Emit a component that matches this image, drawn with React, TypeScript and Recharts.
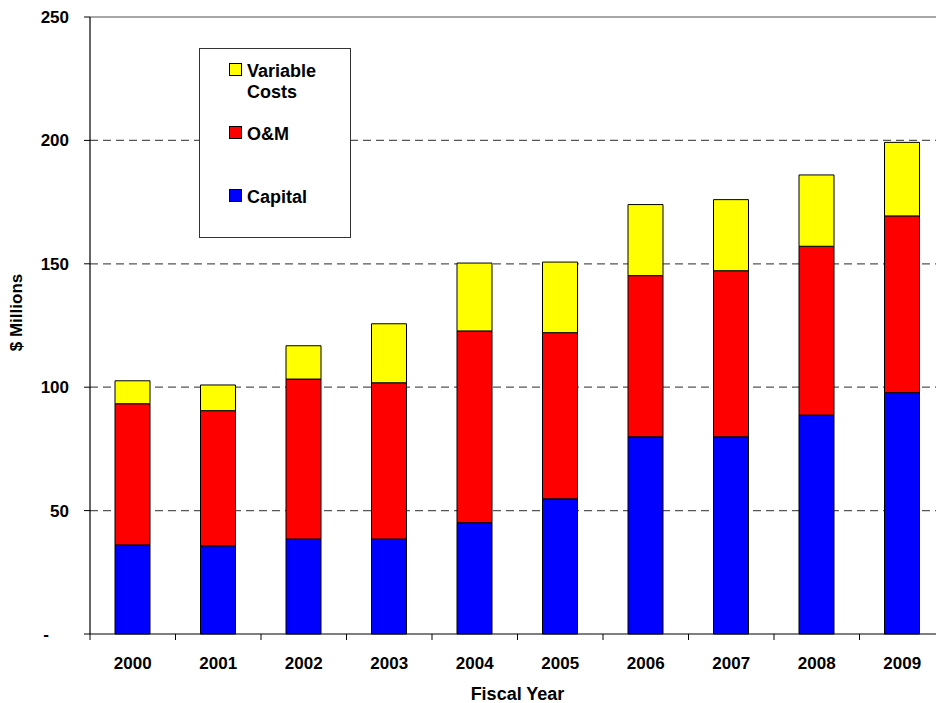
import React from 'react';
import { BarChart, Bar, XAxis, YAxis, CartesianGrid, Legend } from 'recharts';

// Fiscal years on the category axis
const years = ['2000', '2001', '2002', '2003', '2004', '2005', '2006', '2007', '2008', '2009'];

// Cost components, $ millions
const capital = [36.1, 35.7, 38.5, 38.5, 45.1, 54.8, 79.9, 79.9, 88.7, 97.8];
const operationsMaintenance = [57.2, 54.8, 64.8, 63.3, 77.7, 67.3, 65.3, 67.3, 68.4, 71.6];
const variableCosts = [9.3, 10.4, 13.5, 23.9, 27.5, 28.6, 28.8, 28.8, 28.9, 29.8];

// Value axis ticks
const yTicks = [0, 50, 100, 150, 200, 250];

const FONT = '"Liberation Sans", Arial, Helvetica, sans-serif';
const BLUE = '#0000FF';
const RED = '#FF0000';
const YELLOW = '#FFFF00';

const X_TICK_SIZE = 6;
const X_TICK_MARGIN = 17;

const data = years.map((year, i) => ({
  year,
  capital: capital[i],
  om: operationsMaintenance[i],
  variable: variableCosts[i],
}));

// Y tick: numbers right-aligned, zero shown as a dash
const YTick = (props: any) => {
  const { x, y, payload } = props;
  const isZero = payload.value === 0;
  return (
    <text
      x={isZero ? x - 20 : x}
      y={y}
      dy="0.355em"
      textAnchor="end"
      fontFamily={FONT}
      fontWeight="bold"
      fontSize={17}
      fill="#000"
    >
      {isZero ? '-' : payload.value}
    </text>
  );
};

// X tick: label at the category centre, tick marks on category boundaries
const XTick = (props: any) => {
  const { x, y, payload, index, visibleTicksCount, width } = props;
  const step = width / visibleTicksCount;
  const axisY = y - X_TICK_SIZE - X_TICK_MARGIN;
  const isLast = index === visibleTicksCount - 1;
  return (
    <g>
      <line x1={x - step / 2} x2={x - step / 2} y1={axisY} y2={axisY + 6} stroke="#000" strokeWidth={1} />
      {isLast && (
        <line x1={x + step / 2} x2={x + step / 2} y1={axisY} y2={axisY + 6} stroke="#000" strokeWidth={1} />
      )}
      <text
        x={x}
        y={y}
        dy="0.71em"
        textAnchor="middle"
        fontFamily={FONT}
        fontWeight="bold"
        fontSize={17}
        fill="#000"
      >
        {payload.value}
      </text>
    </g>
  );
};

// Horizontal grid: solid grey at the top, dashed in between, none at the base
const GridLine = (props: any) => {
  const { x1, x2, y1, y, height } = props;
  if (Math.abs(y1 - (y + height)) < 1) return <g />;
  if (Math.abs(y1 - y) < 1) {
    return <line x1={x1} x2={x2} y1={y1} y2={y1} stroke="#8a8a8a" strokeWidth={1.5} />;
  }
  return <line x1={x1} x2={x2} y1={y1} y2={y1} stroke="#555" strokeWidth={1.2} strokeDasharray="8 5" />;
};

const YLabel = (props: any) => {
  const { viewBox } = props;
  const cx = viewBox.x + 16;
  const cy = viewBox.y + viewBox.height / 2 - 13;
  return (
    <text
      x={cx}
      y={cy}
      transform={`rotate(-90, ${cx}, ${cy})`}
      textAnchor="middle"
      dominantBaseline="central"
      fontFamily={FONT}
      fontWeight="bold"
      fontSize={17}
      fill="#000"
    >
      $ Millions
    </text>
  );
};

const legendItems = [
  { lines: ['Variable', 'Costs'], color: YELLOW, top: 15 },
  { lines: ['O&M'], color: RED, top: 78 },
  { lines: ['Capital'], color: BLUE, top: 141 },
];

const LegendBox = () => (
  <svg width={152} height={190} style={{ display: 'block' }}>
    <rect x={0.5} y={0.5} width={151} height={189} fill="#fff" stroke="#333" strokeWidth={1} />
    {legendItems.map((item) => (
      <g key={item.lines[0]}>
        <rect x={30.5} y={item.top + 0.5} width={12} height={12} fill={item.color} stroke="#000" strokeWidth={1} />
        {item.lines.map((line, j) => (
          <text
            key={line}
            x={48}
            y={item.top + 13.5 + j * 21}
            fontFamily={FONT}
            fontWeight="bold"
            fontSize={18}
            fill="#000"
          >
            {line}
          </text>
        ))}
      </g>
    ))}
  </svg>
);

export default function App() {
  return (
    <div
      style={{
        position: 'fixed',
        left: 0,
        top: 0,
        width: 936,
        height: 703,
        overflow: 'hidden',
        background: '#fff',
      }}
    >
      <BarChart
        width={960}
        height={703}
        data={data}
        margin={{ top: 17, right: 15, left: 0, bottom: 0 }}
      >
        <CartesianGrid vertical={false} horizontal={GridLine} />
        <XAxis
          dataKey="year"
          height={69}
          axisLine={{ stroke: '#000', strokeWidth: 1.2 }}
          tickLine={false}
          tickSize={X_TICK_SIZE}
          tickMargin={X_TICK_MARGIN}
          tick={<XTick />}
          interval={0}
          label={{
            value: 'Fiscal Year',
            position: 'insideBottom',
            offset: 3,
            fontFamily: FONT,
            fontWeight: 'bold',
            fontSize: 18,
            fill: '#000',
          }}
        />
        <YAxis
          width={90}
          domain={[0, 250]}
          ticks={yTicks}
          interval={0}
          axisLine={{ stroke: '#000', strokeWidth: 1.2 }}
          tickLine={{ stroke: '#000' }}
          tickSize={6}
          tickMargin={15}
          tick={<YTick />}
          label={YLabel}
        />
        <Legend
          layout="horizontal"
          verticalAlign="middle"
          align="center"
          wrapperStyle={{ position: 'absolute', left: 199, top: 48, width: 152, height: 190 }}
          content={() => <LegendBox />}
        />
        <Bar dataKey="capital" name="Capital" stackId="cost" fill={BLUE} stroke="#000" strokeWidth={1} barSize={35} isAnimationActive={false} />
        <Bar dataKey="om" name="O&M" stackId="cost" fill={RED} stroke="#000" strokeWidth={1} barSize={35} isAnimationActive={false} />
        <Bar dataKey="variable" name="Variable Costs" stackId="cost" fill={YELLOW} stroke="#000" strokeWidth={1} barSize={35} isAnimationActive={false} />
      </BarChart>
    </div>
  );
}
